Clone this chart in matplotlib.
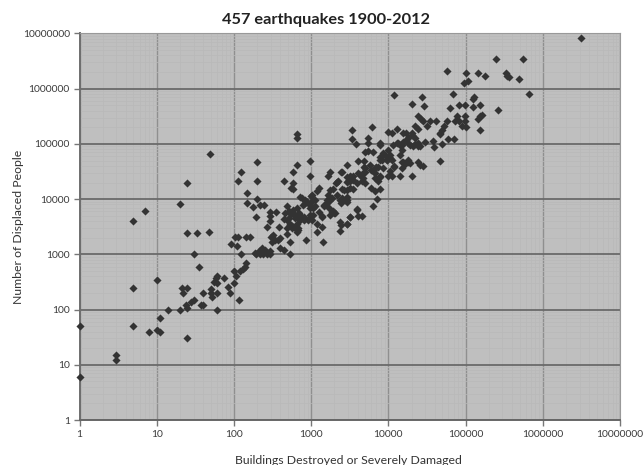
import matplotlib
matplotlib.use("Agg")
import matplotlib.pyplot as plt
from matplotlib.ticker import LogLocator, FixedFormatter, NullFormatter

title = "457 earthquakes 1900-2012"
x_label = "Buildings Destroyed or Severely Damaged"
y_label = "Number of Displaced People"
tick_values = [1, 10, 100, 1000, 10000, 100000, 1000000, 10000000]
tick_labels = ["1", "10", "100", "1000", "10000", "100000", "1000000", "10000000"]

buildings_low = [1, 1, 3, 3, 5, 5, 8, 10, 11, 11, 10, 14, 20, 21, 22, 25, 25, 24, 25, 28, 30, 37, 40, 40, 50, 52, 50, 55, 58, 60, 60, 60, 60, 75, 85, 90, 100, 105, 100, 115, 120, 130, 140, 145, 30, 35, 5, 7, 20, 25, 49, 25, 33, 48]
displaced_low = [50, 6, 15, 12, 250, 50, 40, 42, 40, 70, 340, 100, 100, 250, 200, 250, 30, 120, 105, 140, 150, 120, 120, 200, 200, 170, 240, 320, 380, 400, 300, 200, 100, 380, 260, 200, 300, 400, 500, 150, 500, 550, 600, 700, 1000, 600, 4000, 6200, 8000, 20000, 65000, 2400, 2400, 2500]

buildings_mid = [650, 650, 198, 980, 650, 590, 980, 124, 114, 198, 440, 590, 550, 590, 1250, 1180, 148, 148, 198, 178, 218, 245, 195, 293, 348, 293, 293, 265, 385, 445, 480, 510, 550, 650, 780, 725, 840, 1000, 1070, 980, 1130, 980, 1070, 1020, 650, 740, 800, 480, 530, 620, 680, 560, 650, 1180, 1180, 860, 530, 480, 400, 340, 300, 310, 400, 440, 530, 230, 250, 210, 290, 190, 215, 265, 290, 145, 160, 103, 114, 93, 110, 125, 240, 195, 755, 880, 1020, 1130, 970, 1070, 970, 920, 590, 510, 650, 560, 680, 460, 720, 620, 1420]
displaced_mid = [150000, 126000, 48000, 50000, 41000, 31000, 26000, 31000, 21000, 21000, 21000, 19500, 15800, 15000, 15800, 13800, 12800, 8500, 10000, 7200, 7800, 7800, 4800, 5800, 5800, 4900, 4100, 3100, 3100, 4300, 7400, 6000, 5400, 6800, 7700, 11100, 9700, 11500, 9700, 8400, 7500, 6800, 5200, 4200, 5200, 4900, 4200, 4200, 3400, 3000, 2800, 3000, 2500, 3500, 2500, 1800, 1700, 2300, 2000, 1800, 2050, 1700, 1300, 1180, 1030, 1300, 1200, 1130, 1130, 1050, 1000, 1000, 1000, 2100, 2100, 2100, 2050, 1550, 1400, 1030, 1020, 1000, 10300, 8900, 11800, 9600, 7800, 6800, 5100, 4200, 5500, 4500, 3600, 3200, 2950, 5500, 4200, 4500, 1700]

buildings_high = [3.1e6, 2.5e5, 5.6e5, 5.8e4, 1.02e5, 1.45e5, 1.8e5, 3.3e5, 3.4e5, 3.7e5, 4.9e5, 6.6e5, 9.6e4, 1.06e5, 1.2e4, 2.7e4, 6.9e4, 2.05e4, 2.9e4, 6.3e4, 8.2e4, 9.8e4, 1.25e5, 1.52e5, 1.3e5, 1.25e5, 2.6e5, 2.45e4, 2.65e4, 2.85e4, 3.2e4, 3.5e4, 4.1e4, 5.7e4, 5.2e4, 4.9e4, 4.6e4, 4.7e4, 7.7e4, 7.3e4, 8.1e4, 9.9e4, 9.9e4, 9e4, 1.01e5, 1.45e5, 1.52e5, 1.63e5, 1.55e5, 2.2e4, 2.45e4, 1.3e4, 1e4, 1.1e4, 6.2e3, 3.4e3, 3.4e3, 3.8e3, 5.5e3, 5.5e3, 7.9e3, 1.57e4, 2e4, 2.2e4, 3e4, 3.8e4, 3.9e4, 5e4, 6e4, 7.1e4, 4.6e4, 2.45e4, 2.6e4, 2.8e4, 2.05e4, 1.8e4, 1.9e4, 1.57e4, 1.4e4, 1.5e4, 1.2e4, 1.1e4, 1e4, 7.8e3, 1.7e4, 1.3e4, 1.4e4, 1.8e4, 2.1e4, 2.6e4, 2.45e4, 1.5e4, 1.4e4, 1e4, 9.1e3, 8.2e3, 1.05e4, 9.5e3, 7.8e3, 6.4e3, 5.5e3, 5e3, 4e3, 4.9e3, 2.95e3, 2.5e3, 1.75e3, 1.65e3, 5e3, 7e3, 6.4e3, 6.7e3, 7.8e3, 7.4e3, 4.7e3, 4.1e3, 3.2e3, 3.5e3, 3e3, 2.2e3, 2.1e3, 4.5e3, 5e3, 3.9e3, 3.2e3, 3.5e3, 1.9e3, 2.5e3, 6e3, 6.7e3, 7.8e3, 7.2e3, 6.4e3, 3.9e3, 4.1e3, 4.5e3, 3.2e3, 2.9e3, 2.35e3, 2.35e3, 1.65e3, 2.35e3, 1.75e3, 1.6e3, 2.9e3, 1.45e3, 2.9e3, 1.9e3, 1.75e3, 1.4e3, 2e3, 1.4e3, 2.5e3, 2.75e3]
displaced_high = [8.2e6, 3.5e6, 3.5e6, 2.1e6, 1.9e6, 1.9e6, 1.7e6, 1.9e6, 1.7e6, 1.6e6, 1.5e6, 8.1e5, 1.25e6, 1.4e6, 7.6e5, 7.2e5, 8.1e5, 5.3e5, 4.8e5, 4.5e5, 5.1e5, 5.1e5, 4.6e5, 5.1e5, 7.2e5, 6.4e5, 4.2e5, 3.16e5, 2.85e5, 2.6e5, 2.1e5, 2.6e5, 2.6e5, 2.6e5, 2.1e5, 1.8e5, 1.6e5, 1.5e5, 3.2e5, 2.6e5, 2.6e5, 3.2e5, 2.6e5, 2.1e5, 2e5, 2.8e5, 3.2e5, 3.4e5, 1.8e5, 2.15e5, 1.9e5, 1.9e5, 1.63e5, 1.58e5, 2e5, 1.8e5, 1.24e5, 1e5, 1.3e5, 1.05e5, 1.05e5, 1.58e5, 1.58e5, 1.3e5, 1.1e5, 1.15e5, 8.7e4, 1e5, 1.23e5, 1.23e5, 5e4, 4.65e4, 4.2e4, 4e4, 2.6e4, 4.7e4, 4.5e4, 4.8e4, 2.65e4, 3.65e4, 4e4, 2.6e4, 2.6e4, 9.7e4, 1.2e5, 1.05e5, 9.7e4, 1.05e5, 9.1e4, 9.1e4, 1.05e5, 7.9e4, 6.4e4, 7.9e4, 6.4e4, 6e4, 5.6e4, 5.2e4, 5.2e4, 7e4, 7.3e4, 7e4, 5e4, 5e4, 4.1e4, 3.1e4, 3.1e4, 2.6e4, 3.65e4, 3.9e4, 3.3e4, 3e4, 2.6e4, 2.1e4, 3e4, 3e4, 2.6e4, 2.6e4, 2.1e4, 2.1e4, 1.95e4, 2.1e4, 2e4, 2e4, 1.6e4, 1.5e4, 1.5e4, 1.5e4, 1.6e4, 1.4e4, 1.5e4, 1e4, 7.5e3, 6.5e3, 5e3, 5e3, 4.7e3, 3.5e3, 3.8e3, 2.7e3, 1.2e4, 9.8e3, 9.8e3, 8.5e3, 1.1e4, 7.4e3, 9e3, 6e3, 5.2e3, 5e3, 5.6e3, 3.1e3, 1.05e4, 9.6e3]

buildings_dense = [1.16e4, 1.35e4, 1.57e4, 1.8e4, 2e4, 1.7e4, 1.5e4, 1.9e4, 2.2e4, 2.45e4, 8.6e3, 7.8e3, 8.2e3, 1.05e4, 9.5e3, 1.1e4, 7.4e3, 6.7e3, 6e3, 5e3, 4.3e3, 4.7e3, 3.3e3, 2.9e3, 3.2e3, 3.5e3, 4.9e3, 7.8e3, 6.7e3, 5.8e3, 8.6e3, 1.5e4, 1.65e4, 1.8e4, 1.2e4, 1.05e4, 2.7e3, 2.95e3, 2.45e3, 1.6e3, 1.85e3, 2.15e3, 1.45e3, 1.68e3, 1.85e3, 2.05e3, 2.4e3, 2.9e3, 1.25e3, 1.37e3, 2.4e3, 2.95e3, 3.2e3, 3.9e3, 2.9e3, 3.4e3, 2.15e3, 1.75e3, 840, 590, 510, 690, 800, 530, 480, 320, 375]
displaced_dense = [9.6e4, 1.03e5, 1.1e5, 1.27e5, 1.46e5, 1.56e5, 9.6e4, 9.6e4, 1e5, 9.2e4, 6.8e4, 5.9e4, 5.1e4, 6.3e4, 5.1e4, 5.1e4, 3.9e4, 3.6e4, 3.4e4, 3.1e4, 2.7e4, 2.4e4, 2.55e4, 2.55e4, 2.1e4, 2.2e4, 3.9e4, 2.55e4, 2.4e4, 4.1e4, 3.6e4, 4.8e4, 4.4e4, 5.1e4, 3.9e4, 3.2e4, 1.45e4, 1.45e4, 3.1e4, 9.6e3, 1.03e4, 1.18e4, 7.8e3, 6.8e3, 5.9e3, 5.5e3, 8.4e3, 9.6e3, 5.9e3, 4.8e3, 3.4e3, 3.6e3, 4.8e3, 6.3e3, 2.05e4, 2.35e4, 2.05e4, 1.45e4, 8400, 6300, 5900, 5500, 4800, 3600, 3000, 2250, 1800]

plt.rcParams['font.family'] = ['Lato', 'DejaVu Sans']
W, H = 643, 465
fig = plt.figure(figsize=(W / 100, H / 100), dpi=100, facecolor='white')
ax = fig.add_axes([79.5 / W, 1 - 420 / H, (620 - 79.5) / W, (420 - 33.5) / H], facecolor='#bfbfbf')
ax.set_xscale('log')
ax.set_yscale('log')
ax.set_xlim(1, 1e7)
ax.set_ylim(1, 1e7)

ax.set_xticks(tick_values)
ax.set_yticks(tick_values)
ax.xaxis.set_major_formatter(FixedFormatter(tick_labels))
ax.yaxis.set_major_formatter(FixedFormatter(tick_labels))
ax.xaxis.set_minor_locator(LogLocator(base=10, subs=range(2, 10), numticks=20))
ax.yaxis.set_minor_locator(LogLocator(base=10, subs=range(2, 10), numticks=20))
ax.xaxis.set_minor_formatter(NullFormatter())
ax.yaxis.set_minor_formatter(NullFormatter())

ax.set_axisbelow(True)
ax.grid(True, which='minor', axis='both', color='#b9b9b9', lw=0.5)
ax.grid(True, which='major', axis='x', color='#8f8f8f', lw=1.0)
ax.grid(True, which='major', axis='y', color='#6a6a6a', lw=1.3)

ax.tick_params(which='minor', length=0)
ax.tick_params(which='major', length=4, width=1, color='#777777', labelsize=7.4,
               labelcolor='#3a3a3a', pad=3)
ax.spines['left'].set_color('#6e6e6e')
ax.spines['left'].set_linewidth(1.4)
ax.spines['bottom'].set_color('#666666')
ax.spines['bottom'].set_linewidth(1.4)
ax.spines['top'].set_color('#999999')
ax.spines['right'].set_color('#999999')

for xs, ys in [(buildings_low, displaced_low), (buildings_mid, displaced_mid),
               (buildings_high, displaced_high), (buildings_dense, displaced_dense)]:
    ax.scatter(xs, ys, marker='D', s=17, color='#333333', linewidths=0, clip_on=False, zorder=3)

fig.text(326 / W, 1 - 20 / H, title, ha='center', va='center', fontsize=11.8, fontweight='bold', color='#222222')
fig.text(348 / W, 1 - 460 / H, x_label, ha='center', va='center', fontsize=8.8, color='#333333')
fig.text(19 / W, 1 - 227 / H, y_label, ha='center', va='center', rotation=90, fontsize=8.8, color='#333333')

fig.savefig('out.png', dpi=100, facecolor='white')
